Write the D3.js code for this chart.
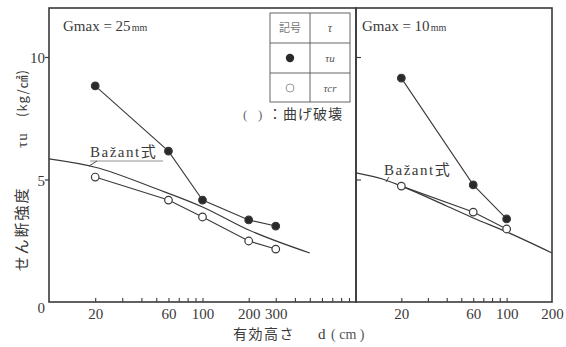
<!DOCTYPE html>
<html><head><meta charset="utf-8">
<script src="https://cdn.jsdelivr.net/npm/d3@7"></script>
<style>
body{margin:0;background:#fff;}
svg{display:block;}
.serif{font-family:"Liberation Serif","Times New Roman","DejaVu Serif",serif;}
.cjk{font-family:"Noto Sans CJK JP","Noto Sans CJK SC",sans-serif;}
</style></head>
<body><svg id="c" width="566" height="347"></svg>
<script>
// ---- data ----
const leftTitle = "Gmax = 25";
const rightTitle = "Gmax = 10";
const leftD = [20, 60, 100, 200, 300];
const leftTauU = [8.82, 6.16, 4.16, 3.35, 3.10];
const leftTauCr = [5.10, 4.16, 3.47, 2.49, 2.16];
const leftBazantD = [10, 20, 50, 100, 200, 500];
const leftBazantV = [5.84, 5.50, 4.62, 3.88, 2.94, 2.00];
const rightD = [20, 60, 100];
const rightTauU = [9.14, 4.78, 3.39];
const rightTauCr = [4.73, 3.67, 2.98];
const rightBazantD = [10, 15, 20, 40, 60, 100, 200];
const rightBazantV = [5.27, 5.02, 4.73, 3.92, 3.43, 2.86, 2.00];
const leftTickLabels = [20, 60, 100, 200, 300];
const rightTickLabels = [20, 60, 100, 200];
const leftMinorTicks = [20,30,40,50,60,70,80,90,100,200,300,400,500,600,700,800,900];
const rightMinorTicks = [20,30,40,50,60,70,80,90,100];
const yTickLabels = [0, 5, 10];

const svg = d3.select("#c");
const ink = "#3a3a3a";

const y = d3.scaleLinear().domain([0, 12]).range([302, 8]);
const xL = d3.scaleLog().domain([10, 1000]).range([49, 356]);
const xR = d3.scaleLog().domain([10, 200]).range([356, 552]);

function frame(x0, x1) {
  svg.append("rect").attr("x", x0).attr("y", y(12)).attr("width", x1 - x0)
    .attr("height", y(0) - y(12)).attr("fill", "none").attr("stroke", ink).attr("stroke-width", 1.6);
}
frame(49, 356);
frame(356, 552);

function xAxis(x, minor, labels) {
  const g = svg.append("g").attr("transform", `translate(0,${y(0)})`);
  g.call(d3.axisBottom(x).tickValues(minor).tickSize(-4).tickFormat(""));
  g.select(".domain").remove();
  g.selectAll("line").attr("stroke", ink).attr("stroke-width", 1.1);
  const gl = svg.append("g").attr("transform", `translate(0,${y(0)})`);
  gl.call(d3.axisBottom(x).tickValues(labels).tickSize(0).tickPadding(6).tickFormat(d3.format("d")));
  gl.attr("font-family", null).attr("font-size", null);
  gl.select(".domain").remove();
  gl.selectAll("text").attr("class", "serif").style("font-size", "15px").attr("fill", ink);
}
xAxis(xL, leftMinorTicks, leftTickLabels);
xAxis(xR, rightMinorTicks, rightTickLabels);

const gy = svg.append("g").attr("transform", "translate(49,0)");
gy.call(d3.axisLeft(y).tickValues([5, 10]).tickSize(4).tickFormat(""));
gy.select(".domain").remove();
gy.selectAll("line").attr("stroke", ink).attr("stroke-width", 1.2);
svg.append("g").selectAll("text").data(yTickLabels).join("text")
  .attr("class", "serif")
  .attr("x", 45).attr("y", d => y(d) + (d === 0 ? 11 : 6))
  .attr("text-anchor", "end").style("font-size", "15px").attr("fill", ink)
  .text(d => d);
const gy2 = svg.append("g").attr("transform", "translate(356,0)");
gy2.call(d3.axisRight(y).tickValues([5, 10]).tickSize(5).tickFormat(""));
gy2.select(".domain").remove();
gy2.selectAll("line").attr("stroke", ink).attr("stroke-width", 1.1);

function series(x, ds, vs, filled) {
  const line = d3.line().x((d, i) => x(ds[i])).y(d => y(d));
  svg.append("path").attr("d", line(vs)).attr("fill", "none").attr("stroke", ink).attr("stroke-width", 1.1);
  svg.append("g").selectAll("circle").data(vs).join("circle")
    .attr("cx", (d, i) => x(ds[i])).attr("cy", d => y(d)).attr("r", 3.8)
    .attr("fill", filled ? "#2a2a2a" : "#fff").attr("stroke", ink).attr("stroke-width", 1.2);
}
function bazant(x, ds, vs) {
  const line = d3.line().curve(d3.curveMonotoneX).x((d, i) => x(ds[i])).y(d => y(d));
  svg.append("path").attr("d", line(vs)).attr("fill", "none").attr("stroke", ink).attr("stroke-width", 1.2);
}
bazant(xL, leftBazantD, leftBazantV);
bazant(xR, rightBazantD, rightBazantV);
series(xL, leftD, leftTauCr, false);
series(xL, leftD, leftTauU, true);
series(xR, rightD, rightTauCr, false);
series(xR, rightD, rightTauU, true);

function title(x0, t) {
  const tx = svg.append("text").attr("class", "serif").attr("x", x0).attr("y", 31)
    .style("font-size", "15px").attr("fill", ink);
  tx.append("tspan").text(t);
  tx.append("tspan").style("font-size", "10px").attr("dx", 1).text("mm");
}
title(63, leftTitle);
title(362, rightTitle);

function bazLabel(x0, y0) {
  const t = svg.append("text").attr("x", x0).attr("y", y0).attr("fill", ink);
  t.append("tspan").attr("class", "serif").style("font-size", "15px").style("letter-spacing", "1.5px").text("Bažant");
  t.append("tspan").attr("class", "cjk").style("font-size", "15px").text("式");
}
bazLabel(90, 157);
svg.append("line").attr("x1", 90).attr("x2", 163).attr("y1", 161).attr("y2", 161).attr("stroke", "#777").attr("stroke-width", 0.8);
svg.append("line").attr("x1", 97).attr("x2", 89).attr("y1", 161).attr("y2", 166).attr("stroke", ink).attr("stroke-width", 0.9);
bazLabel(384, 175);
svg.append("line").attr("x1", 389).attr("x2", 386).attr("y1", 177).attr("y2", 182).attr("stroke", ink).attr("stroke-width", 0.9);

// legend table
const lg = svg.append("g");
const lx0 = 270, lx1 = 350, lxm = 310, lyRows = [13, 43, 73, 102];
lg.append("rect").attr("x", lx0).attr("y", lyRows[0]).attr("width", lx1 - lx0).attr("height", lyRows[3] - lyRows[0])
  .attr("fill", "#fff").attr("stroke", "#555").attr("stroke-width", 0.9);
lg.append("line").attr("x1", lxm).attr("x2", lxm).attr("y1", lyRows[0]).attr("y2", lyRows[3]).attr("stroke", "#555").attr("stroke-width", 0.9);
[1, 2].forEach(i => lg.append("line").attr("x1", lx0).attr("x2", lx1).attr("y1", lyRows[i]).attr("y2", lyRows[i]).attr("stroke", "#555").attr("stroke-width", 0.9));
lg.append("text").attr("class", "cjk").attr("x", 290).attr("y", 32).attr("text-anchor", "middle").style("font-size", "11px").attr("fill", "#777").text("記号");
lg.append("text").attr("class", "serif").attr("x", 330).attr("y", 32).attr("text-anchor", "middle").style("font-style", "italic").style("font-size", "12px").attr("fill", "#555").text("τ");
lg.append("circle").attr("cx", 290).attr("cy", 58).attr("r", 4.2).attr("fill", "#2a2a2a");
lg.append("text").attr("class", "serif").attr("x", 330).attr("y", 62).attr("text-anchor", "middle").style("font-style", "italic").style("font-size", "11px").attr("fill", "#555").text("τu");
lg.append("circle").attr("cx", 290).attr("cy", 88).attr("r", 4).attr("fill", "#fff").attr("stroke", "#999").attr("stroke-width", 1);
lg.append("text").attr("class", "serif").attr("x", 330).attr("y", 92).attr("text-anchor", "middle").style("font-style", "italic").style("font-size", "11px").attr("fill", "#555").text("τcr");
svg.append("text").attr("class", "serif").attr("x", 243).attr("y", 119).style("font-size", "13px").attr("fill", "#666").text("(");
svg.append("text").attr("class", "serif").attr("x", 258).attr("y", 119).style("font-size", "13px").attr("fill", "#666").text(")");
svg.append("text").attr("class", "cjk").attr("x", 268).attr("y", 119).style("font-size", "14px").style("letter-spacing", "1px").attr("fill", ink).text("：曲げ破壊");

// axis titles
const xt = svg.append("text").attr("x", 233).attr("y", 339).attr("fill", ink);
xt.append("tspan").attr("class", "cjk").style("font-size", "14px").style("letter-spacing", "1.5px").text("有効高さ");
xt.append("tspan").attr("class", "serif").attr("x", 318).style("font-size", "15px").text("d");
xt.append("tspan").attr("class", "serif").attr("x", 331).style("font-size", "14px").attr("fill", "#555").text("( cm )");

function yLabel(cy, txt, cls, size, ls) {
  svg.append("text").attr("class", cls).attr("transform", `translate(27,${cy}) rotate(-90)`)
    .attr("text-anchor", "middle").style("font-size", size).style("letter-spacing", ls).attr("fill", ink).text(txt);
}
yLabel(229, "せん断強度", "cjk", "15px", "2px");
yLabel(140, "τu", "serif", "15px", "1px");
yLabel(93, "(kg/㎠)", "cjk", "13px", "1px");
</script></body></html>
